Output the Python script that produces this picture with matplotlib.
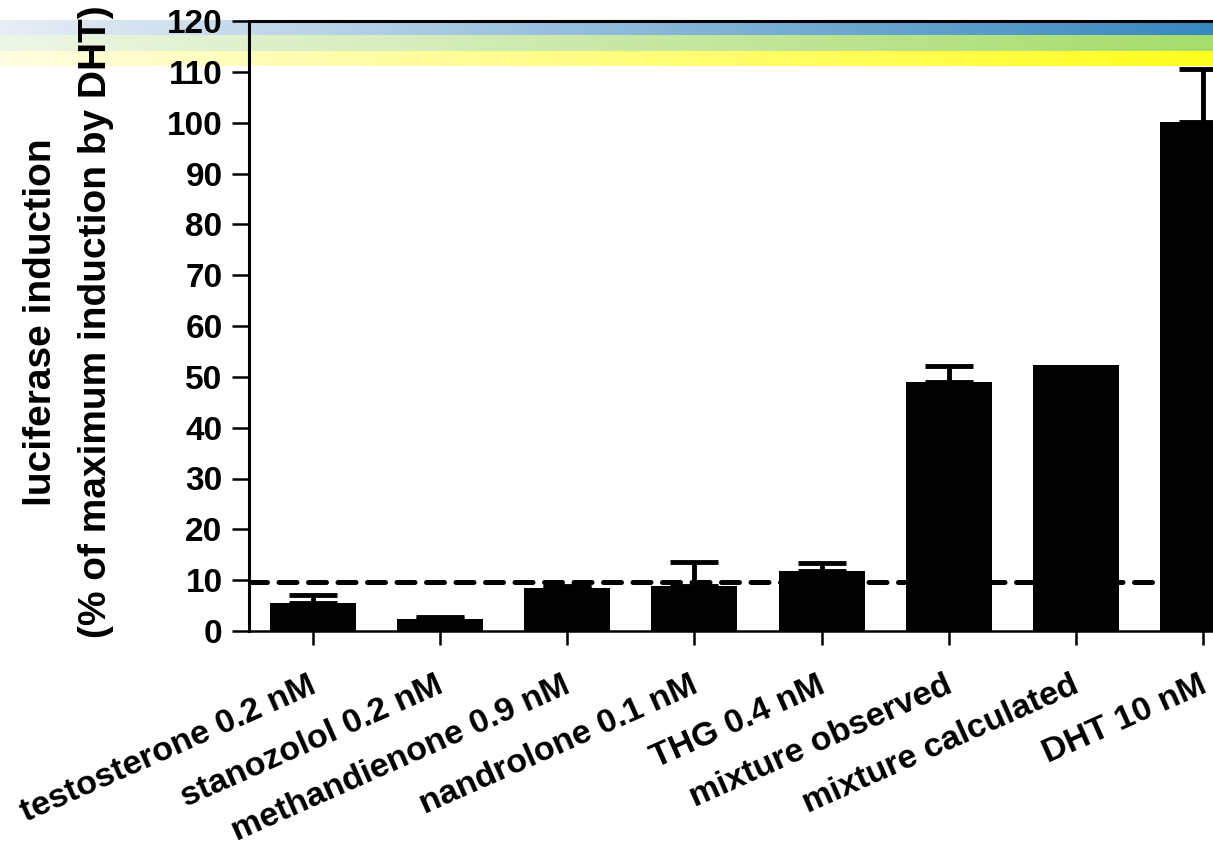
import numpy as np
import matplotlib
matplotlib.use('Agg')
import matplotlib.pyplot as plt
from matplotlib import font_manager

# Значения индукции люциферазы (% от максимума DHT)
categories = ['testosterone 0.2 nM', 'stanozolol 0.2 nM', 'methandienone 0.9 nM',
              'nandrolone 0.1 nM', 'THG 0.4 nM', 'mixture observed',
              'mixture calculated', 'DHT 10 nM']
means = [5.6, 2.3, 8.4, 8.8, 11.8, 48.9, 52.3, 100.2]
err_up = [1.5, 0.4, 0.45, 4.7, 1.5, 3.2, 0.0, 10.3]
threshold = 9.7
yticks = list(range(0, 121, 10))

names = {f.name for f in font_manager.fontManager.ttflist}
label_font = 'Liberation Sans Narrow' if 'Liberation Sans Narrow' in names else 'Liberation Sans'
label_size = 34 if label_font == 'Liberation Sans Narrow' else 28
plt.rcParams['font.family'] = ['Liberation Sans', 'DejaVu Sans']
plt.rcParams['font.weight'] = 'bold'

W, H = 1213, 849
fig = plt.figure(figsize=(W / 100, H / 100), dpi=100, facecolor='white')

# Полосы сверху: три цветные ленты с градиентом слева направо
band = fig.add_axes([0, 1 - 66 / H, 1, 46 / H], zorder=0)
t = np.linspace(0, 1, 600)[None, :, None]
stripes = []
for left, right in [((232, 238, 246), (55, 137, 190)),
                    ((238, 246, 230), (166, 220, 106)),
                    ((255, 253, 225), (255, 255, 30))]:
    l = np.array(left, float)[None, None, :] / 255
    r = np.array(right, float)[None, None, :] / 255
    stripes.append(np.repeat(l + (r - l) * t, 15, axis=0))
band.imshow(np.concatenate(stripes, axis=0), aspect='auto', interpolation='nearest')
band.axis('off')

# Основные оси; правый край уходит за границу рисунка
ax = fig.add_axes([249 / W, 1 - 631 / H, (1267 - 249) / W, 610 / H], zorder=1)
ax.set_facecolor('none')

x = np.arange(len(categories))
ax.axhline(threshold, color='black', lw=3.6, ls=(0, (3.6, 2.3)),
           dash_capstyle='round', zorder=1)
ax.bar(x, means, width=0.675, color='black', zorder=2)
mask = np.array(err_up) > 0
ax.errorbar(x[mask], np.array(means)[mask],
            yerr=[np.zeros(mask.sum()), np.array(err_up)[mask]],
            fmt='none', ecolor='black', elinewidth=3.5, capsize=17, capthick=3.5,
            zorder=3)

ax.set_xlim(-0.5, 7.5)
ax.set_ylim(0, 120)
ax.set_yticks(yticks)
ax.set_yticklabels([str(v) for v in yticks], fontsize=24, fontweight='bold')
ax.set_xticks(x)
ax.set_xticklabels(categories, fontsize=24.5, fontweight='bold', rotation=24,
                   ha='right', va='center_baseline', rotation_mode='anchor')

for side in ['left', 'top']:
    ax.spines[side].set_linewidth(2.2)
ax.spines['bottom'].set_linewidth(1.8)
ax.spines['right'].set_visible(False)
ax.tick_params(axis='y', length=12, width=1.8, pad=7)
ax.tick_params(axis='x', length=10, width=1.8, pad=26)

fig.text(41 / W, 1 - 322 / H, 'luciferase induction', rotation=90,
         ha='center', va='center', fontsize=label_size, fontweight='bold',
         family=label_font)
fig.text(96 / W, 1 - 322 / H, '(% of maximum induction by DHT)', rotation=90,
         ha='center', va='center', fontsize=label_size, fontweight='bold',
         family=label_font)

fig.savefig('out.png', dpi=100, facecolor='white')
